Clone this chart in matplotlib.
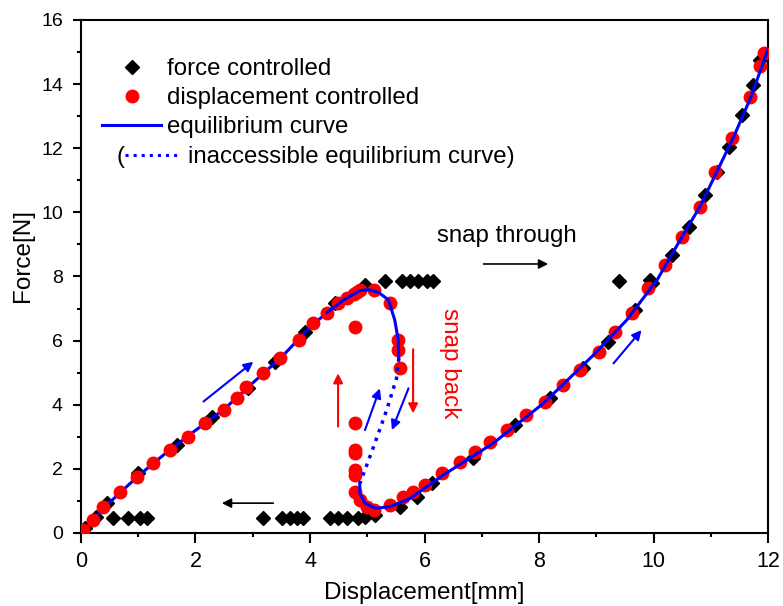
import matplotlib.pyplot as plt
from matplotlib.lines import Line2D

# force controlled (diamonds)
fc_x = [0.07, 0.27, 0.45, 1.0, 1.67, 2.28, 2.92, 3.39, 3.91, 4.44, 4.96,
        5.31, 5.60, 5.75, 5.89, 6.04, 6.15, 9.39,
        9.94, 10.32, 10.61, 10.90, 11.10, 11.31, 11.54, 11.74, 11.86,
        9.97, 9.68, 9.21, 8.77, 8.19, 7.58, 6.85, 6.13, 5.86, 5.57, 5.14, 4.96,
        4.84, 4.64, 4.49, 4.35, 3.88, 3.77, 3.65, 3.51, 3.18, 1.15, 1.03, 0.83, 0.56]
fc_y = [0.15, 0.51, 0.93, 1.86, 2.74, 3.63, 4.51, 5.34, 6.28, 7.16, 7.74,
        7.85, 7.87, 7.87, 7.87, 7.87, 7.87, 7.87,
        7.89, 8.67, 9.55, 10.54, 11.27, 12.05, 13.04, 13.97, 14.75,
        7.79, 6.96, 5.97, 5.14, 4.20, 3.37, 2.33, 1.55, 1.13, 0.82, 0.56, 0.50,
        0.46, 0.46, 0.46, 0.46, 0.46, 0.46, 0.46, 0.46, 0.46, 0.46, 0.46, 0.46, 0.46]

# displacement controlled (red dots)
dc_x = [0.04, 0.21, 0.39, 0.68, 0.97, 1.26, 1.55, 1.87, 2.17, 2.49, 2.72, 2.89,
        3.18, 3.48, 3.80, 4.06, 4.29, 4.49, 4.64, 4.76, 4.82, 4.88, 5.11,
        5.40, 5.54, 5.54, 5.57, 4.79,
        4.79, 4.79, 4.79, 4.79, 4.79, 4.79, 4.87, 4.99, 5.11,
        5.40, 5.63, 5.80, 6.01, 6.30, 6.62, 6.88, 7.14, 7.44, 7.78, 8.10, 8.42,
        8.72, 9.04, 9.33, 9.62, 9.91, 10.20, 10.49, 10.81, 11.07, 11.37, 11.69,
        11.86, 11.93]
dc_y = [0.09, 0.41, 0.82, 1.29, 1.76, 2.19, 2.59, 3.00, 3.42, 3.84, 4.20, 4.56,
        4.98, 5.45, 6.02, 6.54, 6.85, 7.16, 7.32, 7.45, 7.53, 7.57, 7.58,
        7.16, 6.02, 5.71, 5.14, 6.44,
        3.42, 2.59, 2.49, 1.97, 1.81, 1.29, 1.03, 0.82, 0.72,
        0.87, 1.13, 1.29, 1.50, 1.86, 2.22, 2.54, 2.85, 3.21, 3.68, 4.10, 4.62,
        5.08, 5.66, 6.28, 6.85, 7.63, 8.36, 9.24, 10.18, 11.27, 12.31, 13.61,
        14.55, 14.96]

# equilibrium curve: first stable branch, unstable (dotted) part, second stable branch
eq1_x = [0.0, 0.5, 1.0, 1.5, 2.0, 2.5, 3.0, 3.5, 4.0, 4.3, 4.6, 4.87, 5.02, 5.2, 5.37, 5.48, 5.54, 5.55]
eq1_y = [0.0, 0.95, 1.78, 2.52, 3.2, 3.86, 4.68, 5.48, 6.42, 6.88, 7.28, 7.56, 7.59, 7.5, 7.27, 6.64, 6.02, 5.45]
un_x = [5.55, 5.51, 5.34, 5.11, 4.96, 4.87]
un_y = [5.45, 4.82, 3.84, 2.69, 1.97, 1.55]
eq2_x = [4.87, 4.87, 4.96, 5.14, 5.40, 5.75, 6.33, 7.20, 8.08, 8.95, 9.53, 10.06, 10.5, 10.81, 11.1, 11.40, 11.7, 12.0]
eq2_y = [1.55, 1.24, 0.93, 0.77, 0.82, 1.08, 1.81, 2.80, 4.05, 5.55, 6.64, 7.89, 9.25, 10.18, 11.25, 12.36, 13.6, 15.1]

plt.rcParams['font.family'] = ['Liberation Sans', 'DejaVu Sans']

fig = plt.figure(figsize=(7.83, 6.06), dpi=100)
ax = fig.add_axes([0.1034, 0.1205, 0.8776, 0.8465])

ax.plot(fc_x, fc_y, 'D', color='black', ms=7, zorder=2)
ax.plot(eq1_x[:10], eq1_y[:10], '-', color='#0000ff', lw=2.2, zorder=3)
ax.plot(dc_x, dc_y, 'o', color='#ff0000', ms=9, zorder=4)
ax.plot(eq1_x[9:], eq1_y[9:], '-', color='#0000ff', lw=2.2, zorder=5)
ax.plot(un_x, un_y, ':', color='#0000ff', lw=2.5, zorder=5)
ax.plot(eq2_x, eq2_y, '-', color='#0000ff', lw=2.2, zorder=5)

# arrows
def arrow(x0, y0, x1, y1, c, lw=1.5):
    ax.annotate('', xy=(x1, y1), xytext=(x0, y0),
                arrowprops=dict(arrowstyle='-|>', color=c, lw=lw,
                                mutation_scale=14, shrinkA=0, shrinkB=0), zorder=6)

arrow(2.14, 4.10, 3.01, 5.34, '#0000ff')
arrow(4.96, 3.21, 5.22, 4.51, '#0000ff')
arrow(5.72, 4.51, 5.43, 3.21, '#0000ff')
arrow(9.30, 5.29, 9.79, 6.33, '#0000ff')
arrow(4.49, 3.32, 4.49, 4.98, '#ff0000')
arrow(5.80, 5.73, 5.80, 3.73, '#ff0000')
arrow(7.03, 8.39, 8.16, 8.39, 'black', lw=1.2)
arrow(3.36, 0.93, 2.46, 0.93, 'black', lw=1.2)

ax.text(7.43, 9.26, 'snap through', fontsize=17.3, ha='center', va='center')
ax.text(6.45, 5.3, 'snap back', fontsize=17.5, color='#ff0000', rotation=-90,
        ha='center', va='center')

ax.set_xlim(0, 12)
ax.set_ylim(0, 16)
ax.set_xticks(range(0, 13, 2))
ax.set_xticks(range(1, 13, 2), minor=True)
ax.set_yticks(range(0, 17, 2))
ax.set_yticks(range(1, 17, 2), minor=True)
ax.tick_params(which='major', direction='out', length=6, width=1.5)
ax.tick_params(which='minor', direction='out', length=3, width=1.5)
ax.tick_params(axis='x', which='major', labelsize=15.5, pad=6, length=7)
ax.tick_params(axis='y', which='major', labelsize=14, pad=7)
for s in ax.spines.values():
    s.set_linewidth(1.5)
ax.set_xlabel('Displacement[mm]', fontsize=17.5, labelpad=7)
ax.set_ylabel('Force[N]', fontsize=17.5)
ax.yaxis.set_label_coords(-0.069, 0.54)

h1 = [Line2D([], [], ls='none', marker='D', color='black', ms=7),
      Line2D([], [], ls='none', marker='o', color='#ff0000', ms=9),
      Line2D([], [], ls='-', color='#0000ff', lw=2.2)]
leg1 = ax.legend(h1, ['force controlled', 'displacement controlled', 'equilibrium curve'],
                 loc='upper left', bbox_to_anchor=(0.0306, 0.926), frameon=False,
                 fontsize=17.3, handlelength=2.46, handletextpad=0.25, labelspacing=0.3,
                 borderpad=0, borderaxespad=0)
ax.add_artist(leg1)
h2 = [Line2D([], [], ls=':', color='#0000ff', lw=2.2)]
ax.legend(h2, ['inaccessible equilibrium curve)'], loc='upper left',
          bbox_to_anchor=(0.064, 0.754), frameon=False, fontsize=17.3,
          handlelength=2.33, handletextpad=0.3, borderpad=0, borderaxespad=0)
ax.text(0.057, 0.733, '(', transform=ax.transAxes, fontsize=17.3, ha='center', va='center')

fig.savefig('out.png', dpi=100)
